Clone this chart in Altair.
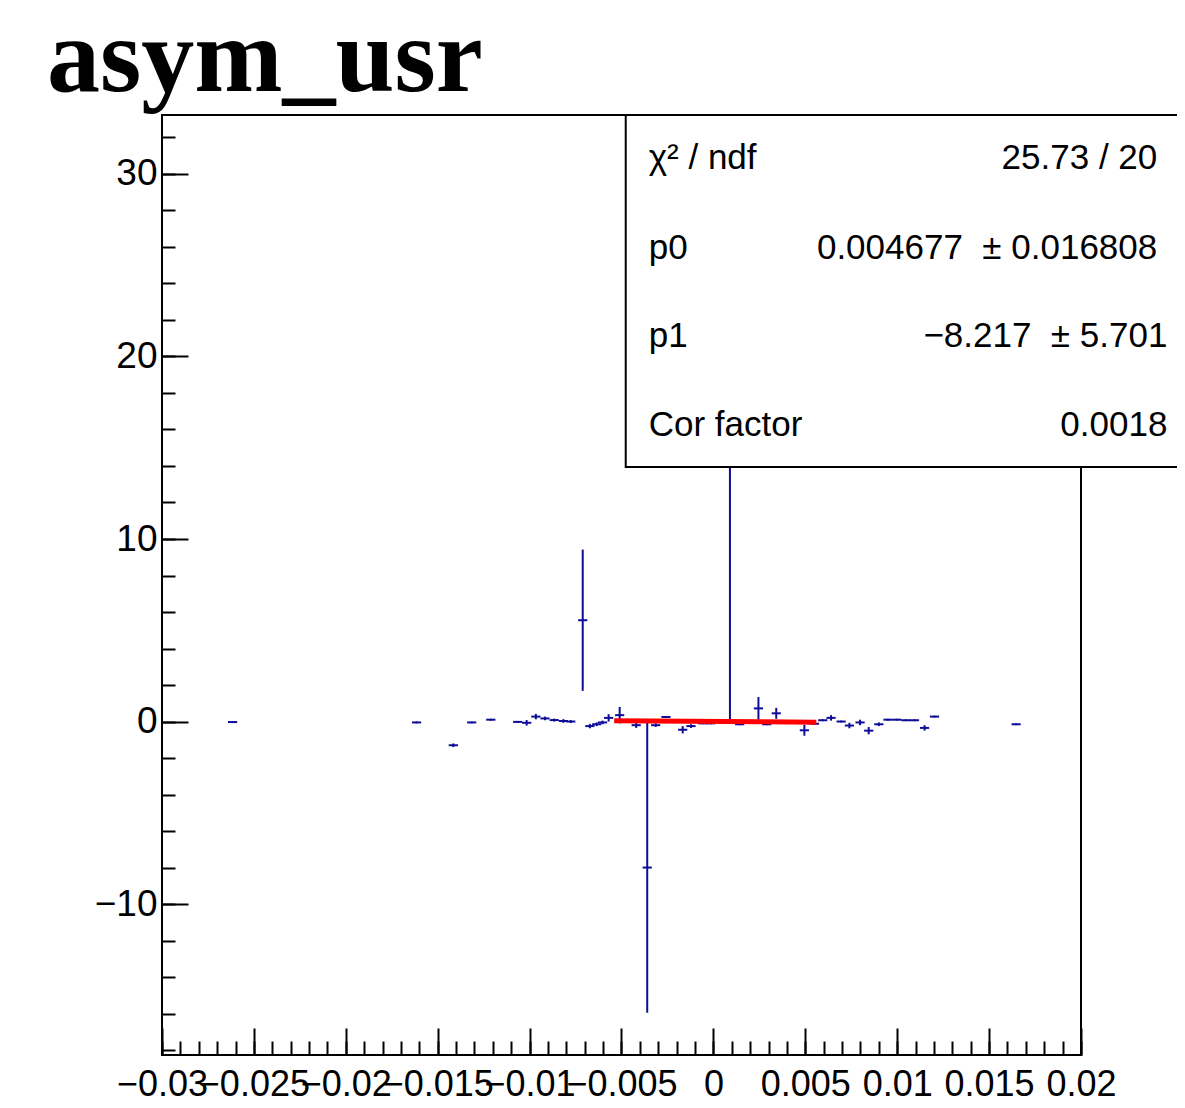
import altair as alt
import pandas as pd

# ---- data ----
xs = [-0.02616, -0.01615, -0.01415, -0.01315, -0.01211,
      -0.01065, -0.01016, -0.00966, -0.00916, -0.00866, -0.00816, -0.00776,
      -0.00711, -0.00672, -0.00635, -0.00603, -0.00570, -0.00510,
      -0.00420, -0.00360, -0.00314, -0.00258, -0.00167, -0.00122, -0.00058, -0.00015,
      0.00090, 0.00143, 0.00245, 0.00290, 0.00342,
      0.00495, 0.00550, 0.00595, 0.00640, 0.00695, 0.00740, 0.00798, 0.00845,
      0.00900, 0.00950, 0.00998, 0.01047, 0.01094, 0.01149, 0.01203, 0.01647]
ys = [-0.03, -0.05, -1.30, -0.05, 0.10,
      -0.02, -0.07, 0.27, 0.17, 0.08, 0.03, 0.00,
      5.55, -0.25, -0.15, -0.05, 0.20, 0.35,
      -0.20, -8.00, -0.20, 0.25, -0.45, -0.25, -0.10, -0.10,
      16.60, -0.15, 0.72, -0.15, 0.45,
      -0.48, -0.12, 0.07, 0.20, 0.00, -0.22, -0.05, -0.50,
      -0.15, 0.10, 0.10, 0.07, 0.07, -0.35, 0.27, -0.15]
eys = [0.05, 0.05, 0.10, 0.05, 0.05,
       0.05, 0.15, 0.15, 0.10, 0.08, 0.10, 0.08,
       3.87, 0.12, 0.10, 0.10, 0.20, 0.45,
       0.15, 7.95, 0.10, 0.05, 0.20, 0.10, 0.05, 0.05,
       16.60, 0.05, 0.62, 0.05, 0.30,
       0.30, 0.05, 0.05, 0.15, 0.05, 0.15, 0.15, 0.20,
       0.10, 0.05, 0.05, 0.05, 0.05, 0.15, 0.05, 0.05]
x_half_width = 0.00025

fit_x = [-0.0054, 0.0056]
fit_y = [0.049, -0.041]

x_major = [-0.03, -0.025, -0.02, -0.015, -0.01, -0.005, 0, 0.005, 0.01, 0.015, 0.02]
x_minor = [round(-0.03 + 0.001 * i, 4) for i in range(51)]
y_major = [-10, 0, 10, 20, 30]
y_minor = list(range(-18, 33, 2))

NB = "\u00a0"
stat_labels = ["χ² / ndf", "p0", "p1", "Cor factor"]
stat_values = ["25.73 / 20", "0.004677" + NB + NB + "± 0.016808", "−8.217" + NB + NB + "± 5.701", "0.0018"]
stat_y = [30.85, 25.95, 21.1, 16.25]
stat_xr = [0.02415, 0.02415, 0.02470, 0.02470]
stat_xl = -0.00352
box = {"x1": -0.00477, "x2": 0.0270, "y1": 13.95, "y2": 33.23}

TITLE = "asym_usr"
BLUE = "#0d0d99"
FONT = "Liberation Sans"

# ---- build ----
pts = pd.DataFrame({"x": xs, "y": ys, "ey": eys})
pts["xlo"] = pts["x"] - x_half_width
pts["xhi"] = pts["x"] + x_half_width
pts["ylo"] = pts["y"] - pts["ey"]
pts["yhi"] = pts["y"] + pts["ey"]

W, H = 919, 940
xscale = alt.Scale(domain=[-0.03, 0.02], nice=False, zero=False)
yscale = alt.Scale(domain=[-18.27, 33.23], nice=False, zero=False)

label_x_axis = alt.Axis(orient="bottom", values=x_major, format="~g", ticks=False, tickSize=0,
                        domain=False, grid=False, labelFont=FONT, labelFontSize=36,
                        labelColor="black", labelOverlap=False, labelFlush=False,
                        labelPadding=12, title=None)
label_y_axis = alt.Axis(orient="left", values=y_major, ticks=False, tickSize=0, domain=False,
                        grid=False, labelFont=FONT, labelFontSize=37, labelColor="black",
                        labelPadding=5, labelOverlap=False, labelFlush=False, title=None)
major_x_axis = alt.Axis(orient="top", offset=-H, values=x_major, labels=False, domain=False,
                        grid=False, tickSize=27, tickWidth=2, tickColor="black", title=None)
major_y_axis = alt.Axis(orient="right", offset=-W, values=y_major, labels=False, domain=False,
                        grid=False, tickSize=26, tickWidth=2, tickColor="black", title=None)
minor_x_axis = alt.Axis(orient="top", offset=-H, values=x_minor, labels=False, domain=False,
                        grid=False, tickSize=14, tickWidth=2, tickColor="black", title=None)
minor_y_axis = alt.Axis(orient="right", offset=-W, values=y_minor, labels=False, domain=False,
                        grid=False, tickSize=13, tickWidth=2, tickColor="black", title=None)

xbars = alt.Chart(pts).mark_rule(color=BLUE, strokeWidth=2).encode(
    x=alt.X("xlo:Q", scale=xscale, axis=label_x_axis),
    x2="xhi:Q",
    y=alt.Y("y:Q", scale=yscale, axis=label_y_axis),
)
ybars = alt.Chart(pts).mark_rule(color=BLUE, strokeWidth=2).encode(
    x=alt.X("x:Q", scale=xscale, axis=major_x_axis),
    y=alt.Y("ylo:Q", scale=yscale, axis=major_y_axis),
    y2="yhi:Q",
)
fit_df = pd.DataFrame({"x": fit_x, "y": fit_y})
fit = alt.Chart(fit_df).mark_line(color="#ff0000", strokeWidth=5).encode(
    x=alt.X("x:Q", scale=xscale, axis=minor_x_axis),
    y=alt.Y("y:Q", scale=yscale, axis=minor_y_axis),
)

box_df = pd.DataFrame([box])
stats_box = alt.Chart(box_df).mark_rect(fill="white", stroke="black", strokeWidth=2).encode(
    x=alt.X("x1:Q", scale=xscale, axis=None),
    x2="x2:Q",
    y=alt.Y("y1:Q", scale=yscale, axis=None),
    y2="y2:Q",
)
stat_df = pd.DataFrame({"lbl": stat_labels, "val": stat_values, "y": stat_y,
                        "xr": stat_xr, "xl": [stat_xl] * 4})
stat_lbl = alt.Chart(stat_df).mark_text(align="left", baseline="middle", font=FONT,
                                        fontSize=35, color="black").encode(
    x=alt.X("xl:Q", scale=xscale, axis=None),
    y=alt.Y("y:Q", scale=yscale, axis=None),
    text="lbl:N",
)
stat_val = alt.Chart(stat_df).mark_text(align="right", baseline="middle", font=FONT,
                                        fontSize=35, color="black").encode(
    x=alt.X("xr:Q", scale=xscale, axis=None),
    y=alt.Y("y:Q", scale=yscale, axis=None),
    text="val:N",
)
title_df = pd.DataFrame({"t": [TITLE]})
title = alt.Chart(title_df).mark_text(align="left", baseline="alphabetic",
                                      font="Liberation Serif", fontWeight="bold",
                                      fontSize=106, color="black").encode(
    x=alt.value(-115), y=alt.value(-24), text="t:N"
)

chart = alt.layer(xbars, ybars, fit, stats_box, stat_lbl, stat_val, title).resolve_axis(
    x="independent", y="independent"
).properties(
    width=W, height=H,
    autosize=alt.AutoSizeParams(type="none"),
    padding={"left": 154, "top": 107, "right": 96, "bottom": 45},
).configure_view(stroke="black", strokeWidth=2)

chart.save("out.html", embed_options={"renderer": "svg", "actions": False})
